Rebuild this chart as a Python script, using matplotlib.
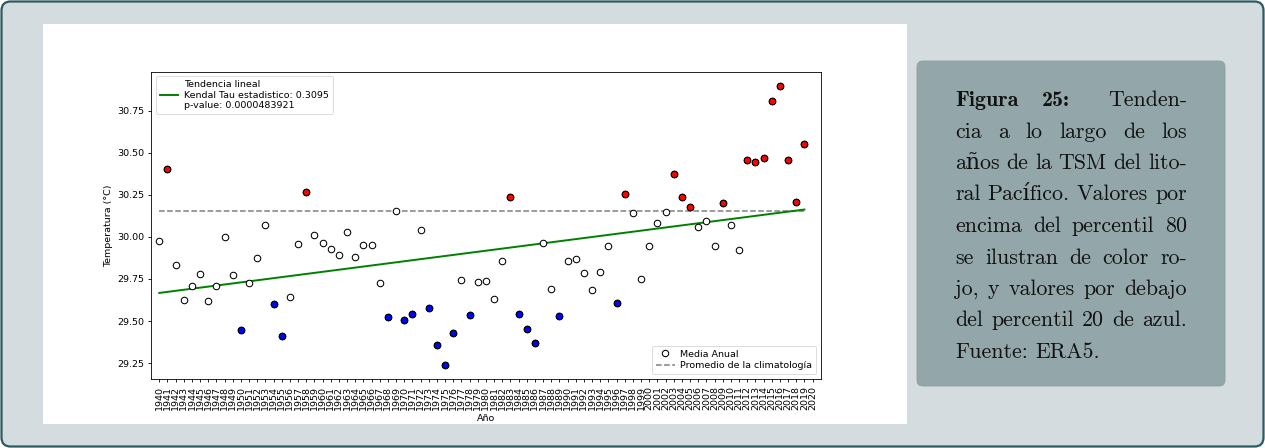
import matplotlib
matplotlib.use("Agg")
import matplotlib.pyplot as plt
from matplotlib.patches import FancyBboxPatch, Rectangle
from matplotlib.lines import Line2D

# ---------------- data ----------------
years = list(range(1940, 2020))
temps = [29.974, 30.405, 29.833, 29.623, 29.706, 29.778, 29.617, 29.708, 29.998, 29.772,
         29.448, 29.726, 29.877, 30.070, 29.601, 29.411, 29.645, 29.957, 30.268, 30.010,
         29.963, 29.927, 29.893, 30.032, 29.879, 29.954, 29.950, 29.728, 29.522, 30.157,
         29.506, 29.543, 30.040, 29.575, 29.357, 29.238, 29.429, 29.742, 29.536, 29.730,
         29.738, 29.631, 29.855, 30.238, 29.542, 29.452, 29.367, 29.966, 29.689, 29.530,
         29.855, 29.869, 29.784, 29.686, 29.790, 29.946, 29.607, 30.254, 30.143, 29.748,
         29.946, 30.085, 30.151, 30.373, 30.240, 30.179, 30.061, 30.095, 29.948, 30.200,
         30.070, 29.925, 30.460, 30.445, 30.468, 30.810, 30.899, 30.460, 30.206, 30.555]
hot_years = [1941, 1958, 1983, 1997, 2003, 2004, 2005, 2009, 2012, 2013, 2014, 2015,
             2016, 2017, 2018, 2019]
cold_years = [1950, 1954, 1955, 1968, 1970, 1971, 1973, 1974, 1975, 1976, 1978, 1984,
              1985, 1986, 1989, 1996]
trend_years = [1940, 2019]
trend_values = [29.667, 30.163]
clim_years = [1940, 2019]
clim_mean = 30.157
xtick_years = list(range(1940, 2021))
ytick_values = [29.25, 29.50, 29.75, 30.00, 30.25, 30.50, 30.75]
kendall_tau = "0.3095"
p_value = "0.0000483921"

caption_lines = [
    "Figura 25: Tenden-",
    "cia a lo largo de los",
    "años de la TSM del lito-",
    "ral Pacífico. Valores por",
    "encima del percentil 80",
    "se ilustran de color ro-",
    "jo, y valores por debajo",
    "del percentil 20 de azul.",
    "Fuente: ERA5.",
]

# ---------------- figure & background ----------------
W, H = 1265, 448
fig = plt.figure(figsize=(W / 100, H / 100), dpi=100)
fig.patch.set_facecolor("white")
bg = fig.add_axes([0, 0, 1, 1], zorder=0)
bg.set_xlim(0, W)
bg.set_ylim(H, 0)
bg.axis("off")
bg.add_patch(FancyBboxPatch((1.5, 1.5), W - 3, H - 3,
                            boxstyle="round,pad=0,rounding_size=9",
                            fc="#d4dcdf", ec="#2d5a61", lw=1.6))
bg.add_patch(Rectangle((43, 24), 864, 400, fc="white", ec="none"))
bg.add_patch(FancyBboxPatch((917, 61), 308, 325,
                            boxstyle="round,pad=0,rounding_size=6",
                            fc="#93a6a9", ec="#8b9fa2", lw=0.6))

# ---------------- main axes ----------------
ax_l, ax_r, ax_t, ax_b = 151.1, 820.7, 71.7, 379.0
ax = fig.add_axes([ax_l / W, (H - ax_b) / H, (ax_r - ax_l) / W, (ax_b - ax_t) / H], zorder=2)

fs = 6.8
msize = 22
ax.scatter(years, temps, s=msize, facecolors="white", edgecolors="black",
           linewidths=0.75, zorder=3, label="Media Anual")
hot_t = [t for y, t in zip(years, temps) if y in hot_years]
hot_y = [y for y in years if y in hot_years]
cold_t = [t for y, t in zip(years, temps) if y in cold_years]
cold_y = [y for y in years if y in cold_years]
ax.scatter(hot_y, hot_t, s=msize, facecolors="red", edgecolors="black", linewidths=0.75, zorder=4)
ax.scatter(cold_y, cold_t, s=msize, facecolors="blue", edgecolors="black", linewidths=0.75, zorder=4)

trend_line, = ax.plot(trend_years, trend_values, color="green", lw=1.4, zorder=2)
clim_line, = ax.plot(clim_years, [clim_mean, clim_mean], color="gray", lw=1.1,
                     ls=(0, (3.7, 1.6)), zorder=1)

ax.set_xlim(1939, 2021)
ax.set_ylim(29.155, 30.983)
ax.set_xticks(xtick_years)
ax.set_xticklabels([str(y) for y in xtick_years], rotation=90, fontsize=fs)
ax.set_yticks(ytick_values)
ax.set_yticklabels([f"{v:.2f}" for v in ytick_values], fontsize=fs)
ax.tick_params(length=2.5, width=0.6, pad=2.5)
for sp in ax.spines.values():
    sp.set_linewidth(0.6)
ax.set_xlabel("Año", fontsize=fs, labelpad=2.5)
ax.set_ylabel("Temperatura (°C)", fontsize=fs, labelpad=3)

leg1 = ax.legend([Line2D([], [], color="green", lw=1.4)],
                 [f"Tendencia lineal\nKendal Tau estadistico: {kendall_tau}\np-value: {p_value}"],
                 loc="upper left", fontsize=fs, handlelength=2.0, borderpad=0.4,
                 labelspacing=0.3, handletextpad=0.6, borderaxespad=0.5)
leg1.get_frame().set_linewidth(0.6)
ax.add_artist(leg1)
leg2 = ax.legend([Line2D([], [], marker="o", ls="none", mfc="white", mec="black",
                         ms=4.6, mew=0.75),
                  Line2D([], [], color="gray", lw=1.1, ls=(0, (3.7, 1.6)))],
                 ["Media Anual", "Promedio de la climatología"],
                 loc="lower right", fontsize=fs, handlelength=2.0, borderpad=0.4,
                 labelspacing=0.3, handletextpad=0.6, borderaxespad=0.5)
leg2.get_frame().set_linewidth(0.6)

# ---------------- caption (justified) ----------------
renderer = fig.canvas.get_renderer()
cap_fs = 15.8
x0, x1 = 955, 1187
y0, dy = 106, 31.5
reg_fam = ["cmr10", "DejaVu Serif"]
bold_fam = ["cmb10", "DejaVu Serif"]
space_w = cap_fs * 100 / 72 * 0.333
n_lines = len(caption_lines)
for i, line in enumerate(caption_lines):
    y = y0 + i * dy
    words = line.split()
    texts = []
    for j, w in enumerate(words):
        fam = bold_fam if (i == 0 and j < 2) else reg_fam
        t = bg.text(0, y, w, fontsize=cap_fs, family=fam, color="#111111",
                    ha="left", va="baseline")
        texts.append(t)
    widths = [t.get_window_extent(renderer).width for t in texts]
    if i < n_lines - 1 and len(words) > 1:
        # wider stretch after a colon (as TeX does) on justified lines
        weights = [1.6 if words[k].endswith(":") else 1.0 for k in range(len(words) - 1)]
        unit = (x1 - x0 - sum(widths)) / sum(weights)
        gaps = [unit * wgt for wgt in weights]
    else:
        gaps = [space_w] * (len(words) - 1)
    x = x0
    for k, (t, wd) in enumerate(zip(texts, widths)):
        t.set_x(x)
        if k < len(gaps):
            x += wd + gaps[k]

fig.savefig("out.png", dpi=100, facecolor=fig.get_facecolor())
